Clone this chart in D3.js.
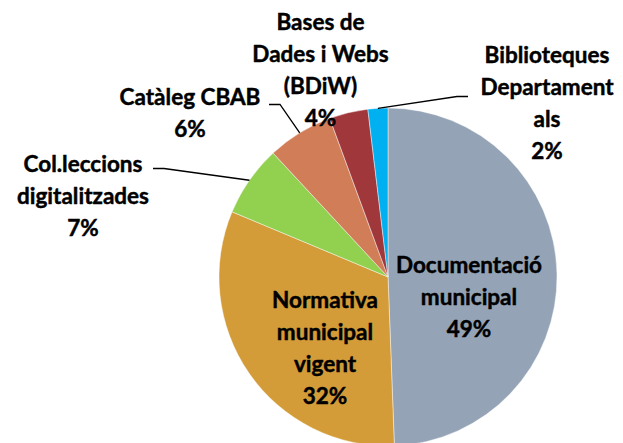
<!DOCTYPE html>
<html>
<head>
<meta charset="utf-8">
<script src="https://cdn.jsdelivr.net/npm/d3@7"></script>
<style>
  html, body { margin: 0; padding: 0; background: #ffffff; }
  svg { display: block; }
  text { font-family: Lato, "Open Sans", sans-serif; font-weight: 700; fill: #000; }
</style>
</head>
<body>
<svg id="chart" width="623" height="443"></svg>
<script>
// Distribució per origen (%)
const categories = [
  "Documentació municipal",
  "Normativa municipal vigent",
  "Col.leccions digitalitzades",
  "Catàleg CBAB",
  "Bases de Dades i Webs (BDiW)",
  "Biblioteques Departamentals"
];
const shares = [49.4, 31.9, 6.8, 6.3, 3.7, 1.9];
// Category names as they are wrapped on the chart
const labelLines = [
  ["Documentació", "municipal"],
  ["Normativa", "municipal", "vigent"],
  ["Col.leccions", "digitalitzades"],
  ["Catàleg CBAB"],
  ["Bases de", "Dades i Webs", "(BDiW)"],
  ["Biblioteques", "Departament", "als"]
];

// Styling and layout
const sliceColors = ["#94a4b6", "#d39c38", "#92d050", "#d17d57", "#a0373b", "#00b0f0"];
const cx = 388, cy = 277, radius = 169;
const fontSize = 22.5, lineHeight = 32;
// label block anchor: centre x, first baseline y; leader: label-side points
const labelLayout = [
  { x: 469, y: 273 },
  { x: 325, y: 308 },
  { x: 83,  y: 172, leader: [[153, 168.5], [164, 168.5]] },
  { x: 190, y: 105, leader: [[269, 104.5], [280, 104.5]] },
  { x: 320.5, y: 30 },
  { x: 547, y: 63,  leader: [[468, 96.5], [457, 96.5]] }
];

const data = categories.map((c, i) => ({ name: c, value: shares[i], lines: labelLines[i], i }));
const total = d3.sum(shares);
const pct = d3.format(".0%");

const svg = d3.select("#chart");
const g = svg.append("g").attr("transform", `translate(${cx},${cy})`);

const pie = d3.pie().value(d => d.value).sort(null);
const arc = d3.arc().innerRadius(0).outerRadius(radius);
const arcs = pie(data);

g.selectAll("path.slice")
  .data(arcs)
  .join("path")
  .attr("class", "slice")
  .attr("d", arc)
  .attr("fill", d => sliceColors[d.data.i])
  .attr("stroke", "rgba(255,255,255,0.55)")
  .attr("stroke-width", 0.8);

// Leader lines from outside labels to the slice edge
arcs.forEach(a => {
  const lay = labelLayout[a.data.i];
  if (!lay.leader) return;
  const mid = (a.startAngle + a.endAngle) / 2;
  const edge = [cx + radius * Math.sin(mid), cy - radius * Math.cos(mid)];
  svg.append("path")
    .attr("d", d3.line()([...lay.leader, edge]))
    .attr("fill", "none")
    .attr("stroke", "#000")
    .attr("stroke-width", 1.3);
});

// Data labels: category name + percentage
arcs.forEach(a => {
  const lay = labelLayout[a.data.i];
  const lines = [...a.data.lines, pct(a.data.value / total)];
  const t = svg.append("text")
    .attr("text-anchor", "middle")
    .attr("font-size", fontSize)
    .attr("stroke", "#000")
    .attr("stroke-width", 0.45);
  lines.forEach((ln, k) => {
    t.append("tspan")
      .attr("x", lay.x)
      .attr("y", lay.y + k * lineHeight)
      .text(ln);
  });
});
</script>
</body>
</html>
